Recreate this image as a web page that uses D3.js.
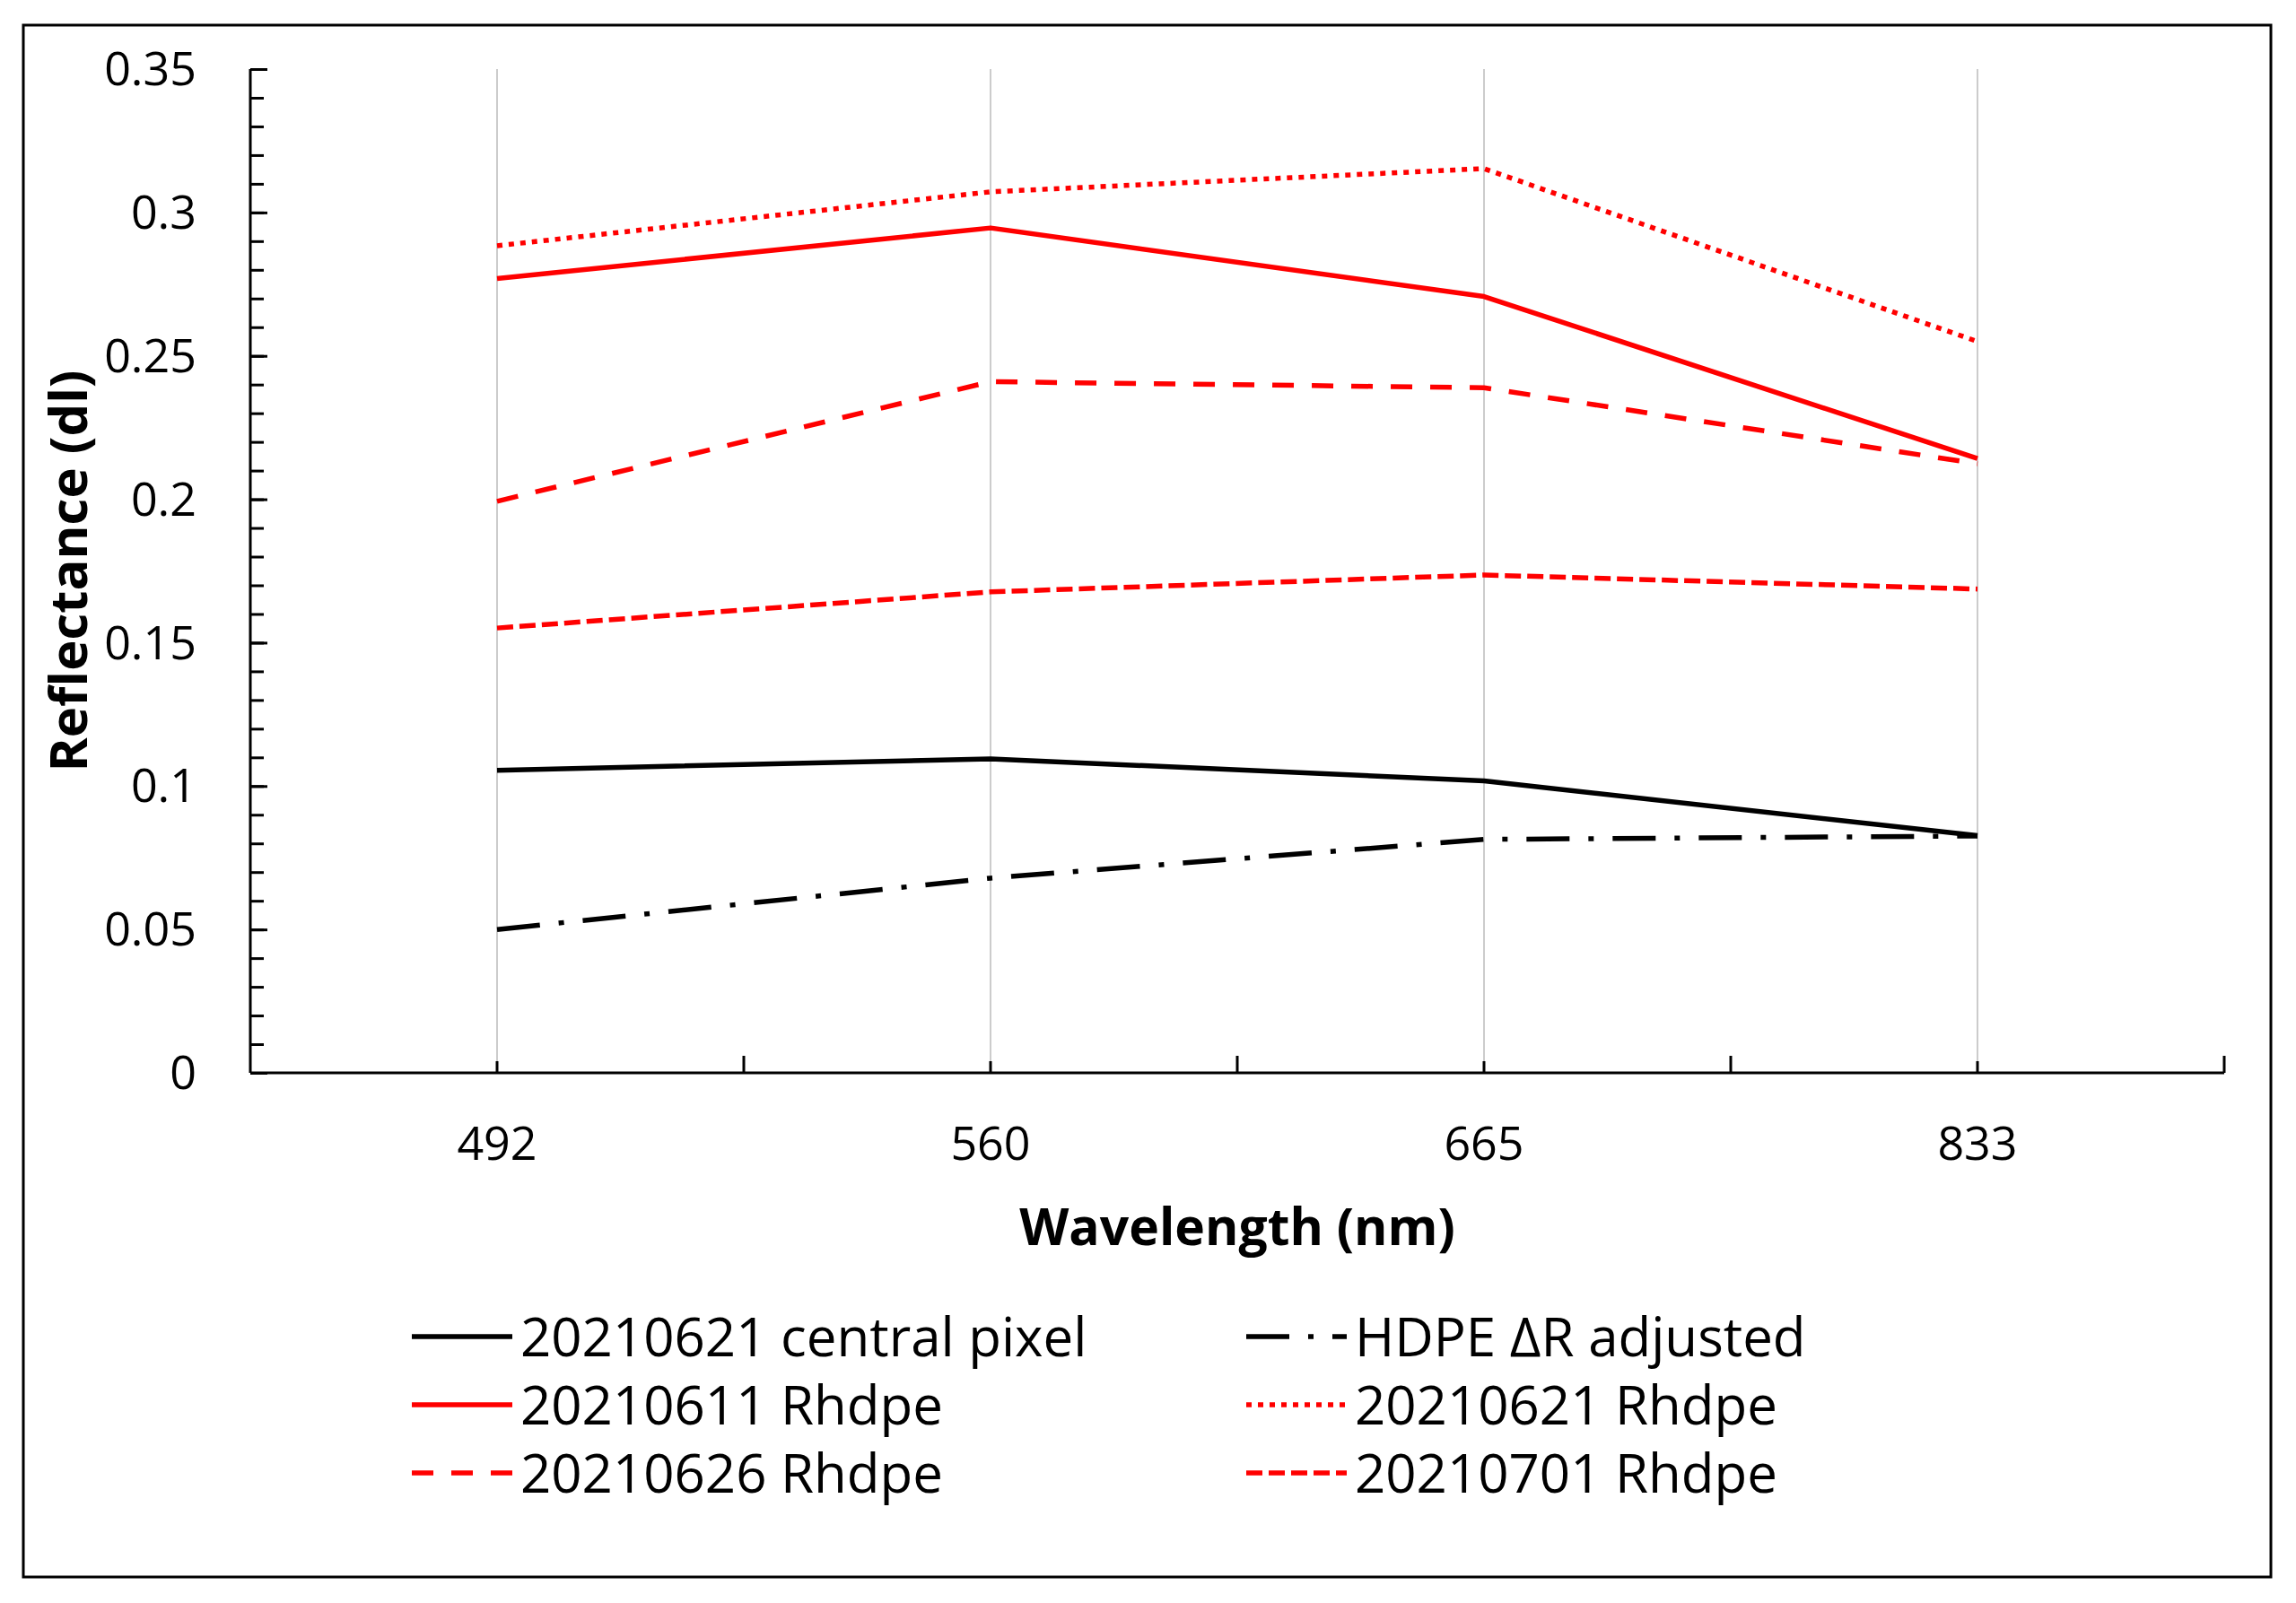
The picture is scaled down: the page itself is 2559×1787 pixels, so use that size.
<!DOCTYPE html>
<html>
<head>
<meta charset="utf-8">
<script src="https://cdn.jsdelivr.net/npm/d3@7"></script>
<style>
  body { margin: 0; background: #fff; }
  text { font-family: "Open Sans", "Noto Sans", sans-serif; fill: #000; }
</style>
</head>
<body>
<div id="chart"></div>
<script>
// wavelengths (categories)
const wavelengths = ["492", "560", "665", "833"];

// series values
const centralPixel = [0.1055, 0.1095, 0.1018, 0.0827];
const hdpeAdjusted = [0.0500, 0.0679, 0.0814, 0.0826];
const rhdpe0611 = [0.2770, 0.2946, 0.2707, 0.2142];
const rhdpe0621 = [0.2884, 0.3072, 0.3153, 0.2550];
const rhdpe0626 = [0.1993, 0.2410, 0.2389, 0.2124];
const rhdpe0701 = [0.1551, 0.1677, 0.1736, 0.1687];

const seriesNames = [
    "20210621 central pixel", "HDPE \u0394R adjusted",
    "20210611 Rhdpe", "20210621 Rhdpe",
    "20210626 Rhdpe", "20210701 Rhdpe"
];
const seriesValues = [centralPixel, hdpeAdjusted, rhdpe0611, rhdpe0621, rhdpe0626, rhdpe0701];

const yTicks = [0, 0.05, 0.1, 0.15, 0.2, 0.25, 0.3, 0.35];
const yTickLabels = ["0", "0.05", "0.1", "0.15", "0.2", "0.25", "0.3", "0.35"];

// line styles per series (excel-ish dash patterns)
const styles = [
    { color: "#000000", dash: null },
    { color: "#000000", dash: "48,21,6,21" },
    { color: "#ff0000", dash: null },
    { color: "#ff0000", dash: "6,7" },
    { color: "#ff0000", dash: "24,20" },
    { color: "#ff0000", dash: "18,7" }
];

const width = 2559, height = 1787;
const plot = { left: 279, right: 2479, top: 77, bottom: 1196 };

const svg = d3.select("#chart").append("svg")
    .attr("width", width)
    .attr("height", height);

// outer frame
svg.append("rect")
    .attr("x", 26).attr("y", 28)
    .attr("width", 2505).attr("height", 1730)
    .attr("fill", "none")
    .attr("stroke", "#000")
    .attr("stroke-width", 3);

const x = d3.scalePoint()
    .domain(wavelengths)
    .range([plot.left, plot.right])
    .padding(0.5);
const step = x.step();

const y = d3.scaleLinear()
    .domain([0, 0.35])
    .range([plot.bottom, plot.top]);

// vertical gridlines at each category
svg.append("g").selectAll("line")
    .data(wavelengths)
    .join("line")
    .attr("x1", d => x(d)).attr("x2", d => x(d))
    .attr("y1", y(0.35)).attr("y2", y(0))
    .attr("stroke", "#cccccc")
    .attr("stroke-width", 2);

// y axis: major ticks every 0.05, minor every 0.01, ticks point inward
const yAxis = svg.append("g")
    .attr("transform", `translate(${plot.left},0)`);

yAxis.call(d3.axisRight(y)
        .tickValues(d3.range(0, 0.3501, 0.01))
        .tickSize(15)
        .tickFormat(""))
    .call(g => g.select(".domain").remove());
yAxis.append("g")
    .call(d3.axisRight(y)
        .tickValues(yTicks)
        .tickSize(19)
        .tickFormat(""))
    .call(g => g.select(".domain").remove());
yAxis.selectAll(".tick line")
    .attr("stroke", "#000")
    .attr("stroke-width", 3);
yAxis.append("line")
    .attr("y1", y(0.35)).attr("y2", y(0))
    .attr("stroke", "#000")
    .attr("stroke-width", 3);

// y tick labels
svg.append("g").selectAll("text")
    .data(yTicks)
    .join("text")
    .attr("x", 219)
    .attr("y", d => y(d))
    .attr("dy", "0.35em")
    .attr("text-anchor", "end")
    .style("font-size", "52px")
    .text((d, i) => yTickLabels[i]);

// x axis line + ticks
const xAxis = svg.append("g");
xAxis.append("line")
    .attr("x1", plot.left).attr("x2", plot.right)
    .attr("y1", plot.bottom).attr("y2", plot.bottom)
    .attr("stroke", "#000")
    .attr("stroke-width", 3);

const boundaries = wavelengths.map(d => x(d) + step / 2);
xAxis.selectAll("line.major")
    .data(boundaries)
    .join("line")
    .attr("class", "major")
    .attr("x1", d => d).attr("x2", d => d)
    .attr("y1", plot.bottom).attr("y2", plot.bottom - 19)
    .attr("stroke", "#000")
    .attr("stroke-width", 3);
xAxis.selectAll("line.minor")
    .data(wavelengths)
    .join("line")
    .attr("class", "minor")
    .attr("x1", d => x(d)).attr("x2", d => x(d))
    .attr("y1", plot.bottom).attr("y2", plot.bottom - 13)
    .attr("stroke", "#000")
    .attr("stroke-width", 3);

// x tick labels
svg.append("g").selectAll("text")
    .data(wavelengths)
    .join("text")
    .attr("x", d => x(d))
    .attr("y", 1293)
    .attr("text-anchor", "middle")
    .style("font-size", "52px")
    .text(d => d);

// axis titles
svg.append("text")
    .attr("x", (plot.left + plot.right) / 2)
    .attr("y", 1388)
    .attr("text-anchor", "middle")
    .style("font-size", "57px")
    .style("font-weight", "bold")
    .text("Wavelength (nm)");

svg.append("text")
    .attr("transform", `translate(97,${(plot.top + plot.bottom) / 2}) rotate(-90)`)
    .attr("text-anchor", "middle")
    .style("font-size", "58px")
    .style("font-weight", "bold")
    .text("Reflectance (dl)");

// the series lines
const line = d3.line()
    .x((d, i) => x(wavelengths[i]))
    .y(d => y(d));

svg.append("g").selectAll("path")
    .data(seriesValues)
    .join("path")
    .attr("d", d => line(d))
    .attr("fill", "none")
    .attr("stroke", (d, i) => styles[i].color)
    .attr("stroke-width", 5.5)
    .attr("stroke-dasharray", (d, i) => styles[i].dash)
    .attr("stroke-linejoin", "round");

// legend, two columns, three rows
const legendCols = [459, 1389];
const legendRows = [1512, 1588, 1664];

const legend = svg.append("g").selectAll("g")
    .data(seriesNames)
    .join("g")
    .attr("transform", (d, i) => `translate(${legendCols[i % 2]},${legendRows[Math.floor(i / 2)]})`);

legend.append("line")
    .attr("x1", 0).attr("x2", 112)
    .attr("y1", -22).attr("y2", -22)
    .attr("stroke", (d, i) => styles[i].color)
    .attr("stroke-width", 5.5)
    .attr("stroke-dasharray", (d, i) => styles[i].dash);

legend.append("text")
    .attr("x", 121)
    .attr("y", 0)
    .style("font-size", "60px")
    .text(d => d);
</script>
</body>
</html>
